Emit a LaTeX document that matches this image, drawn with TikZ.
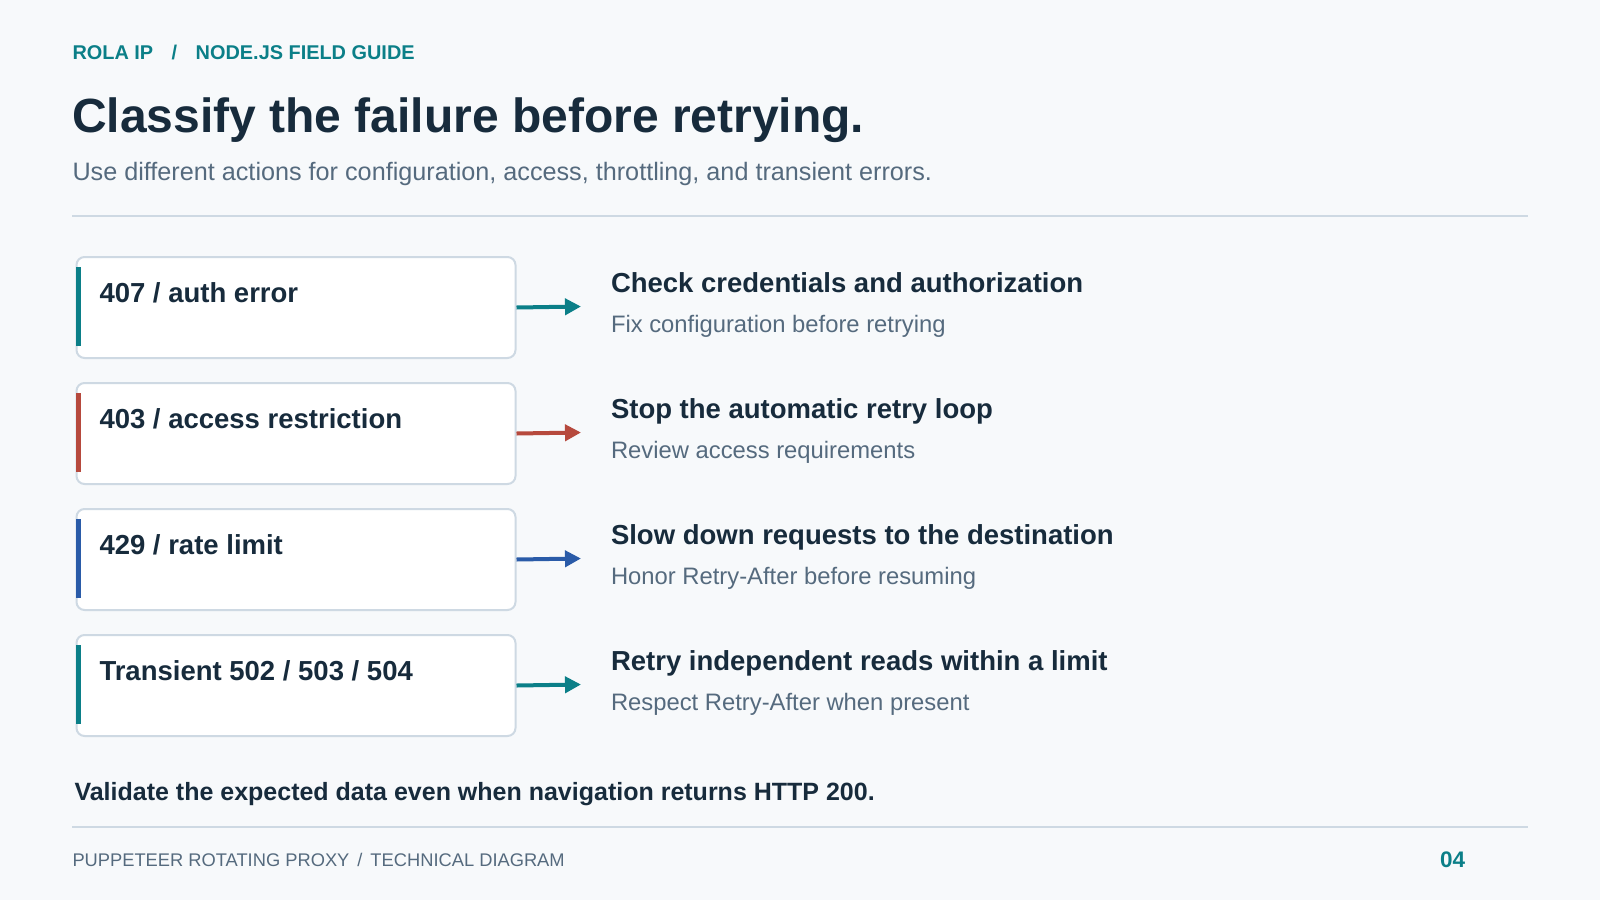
\documentclass[tikz,border=0pt]{standalone}
\usepackage{fontspec}
\setmainfont{Liberation Sans}
\usetikzlibrary{arrows.meta}
\definecolor{bg}{HTML}{F7F9FB}
\definecolor{teal}{HTML}{0B7F88}
\definecolor{navy}{HTML}{172B3C}
\definecolor{slate}{HTML}{556A7E}
\definecolor{errred}{HTML}{B6493D}
\definecolor{errblue}{HTML}{2A5BA8}
\definecolor{edge}{HTML}{CED9E3}
\tikzset{
  txt/.style={anchor=base west, inner sep=0pt, outer sep=0pt},
  card/.style={draw=edge, line width=2pt, fill=white, rounded corners=8pt,
    minimum width=439pt, minimum height=101pt, anchor=north west, inner sep=0pt},
  lab/.style={txt, text=navy, font=\fontsize{27.5}{32}\selectfont\bfseries},
  acttitle/.style={txt, text=navy, font=\fontsize{27.5}{32}\selectfont\bfseries},
  actsub/.style={txt, text=slate, font=\fontsize{23.8}{28}\selectfont},
  conn/.style={line width=4pt, -{Triangle[length=16pt,width=16pt]}},
}
\begin{document}
\begin{tikzpicture}[x=1pt,y=-1pt]
\fill[bg] (0,0) rectangle (1600,900);
\useasboundingbox (0,0) rectangle (1600,900);
% header
\node[txt, text=teal, font=\fontsize{19.9}{24}\selectfont\bfseries] (hdr) at (72.5,59) {ROLA IP\hspace{18.5pt}/\hspace{18.5pt}NODE.JS FIELD GUIDE};
\node[txt, text=navy, font=\fontsize{48}{55}\selectfont\bfseries] (title) at (72,132.5) {Classify the failure before retrying.};
\node[txt, text=slate, font=\fontsize{25.2}{29}\selectfont] (subtitle) at (72.5,180) {Use different actions for configuration, access, throttling, and transient errors.};
\draw[edge, line width=2pt] (72,216) coordinate (r1a) -- (1528,216) coordinate (r1b);
% row 1
\node[card] (b1) at (75.5,256) {};
\fill[teal] (75.5,267) rectangle (81,346);
\node[lab] (l1) at (99.5,302.5) {407 / auth error};
\coordinate (t1) at (581,306.5);
\draw[conn, teal] (b1.east) -- (t1);
\node[acttitle] (a1) at (611,292) {Check credentials and authorization};
\node[actsub] (s1) at (611,332) {Fix configuration before retrying};
% row 2
\node[card] (b2) at (75.5,382) {};
\fill[errred] (75.5,393) rectangle (81,472);
\node[lab] (l2) at (99.5,428.5) {403 / access restriction};
\coordinate (t2) at (581,432.5);
\draw[conn, errred] (b2.east) -- (t2);
\node[acttitle] (a2) at (611,418) {Stop the automatic retry loop};
\node[actsub] (s2) at (611,458) {Review access requirements};
% row 3
\node[card] (b3) at (75.5,508) {};
\fill[errblue] (75.5,519) rectangle (81,598);
\node[lab] (l3) at (99.5,554.5) {429 / rate limit};
\coordinate (t3) at (581,558.5);
\draw[conn, errblue] (b3.east) -- (t3);
\node[acttitle] (a3) at (611,544) {Slow down requests to the destination};
\node[actsub] (s3) at (611,584) {Honor Retry-After before resuming};
% row 4
\node[card] (b4) at (75.5,634) {};
\fill[teal] (75.5,645) rectangle (81,724);
\node[lab] (l4) at (99.5,680.5) {Transient 502 / 503 / 504};
\coordinate (t4) at (581,684.5);
\draw[conn, teal] (b4.east) -- (t4);
\node[acttitle] (a4) at (611,670) {Retry independent reads within a limit};
\node[actsub] (s4) at (611,710) {Respect Retry-After when present};
% footer
\node[txt, text=navy, font=\fontsize{25}{29}\selectfont\bfseries] (note) at (74.5,800.5) {Validate the expected data even when navigation returns HTTP 200.};
\draw[edge, line width=2pt] (72,826.5) coordinate (r2a) -- (1528,826.5) coordinate (r2b);
\node[txt, text=slate, font=\fontsize{18.3}{22}\selectfont] (foot) at (72.5,866.5) {PUPPETEER ROTATING PROXY\hspace{8pt}/\hspace{8pt}TECHNICAL DIAGRAM};
\node[txt, text=teal, font=\fontsize{22.5}{26}\selectfont\bfseries] (page) at (1440,867.5) {04};
\end{tikzpicture}
\end{document}
